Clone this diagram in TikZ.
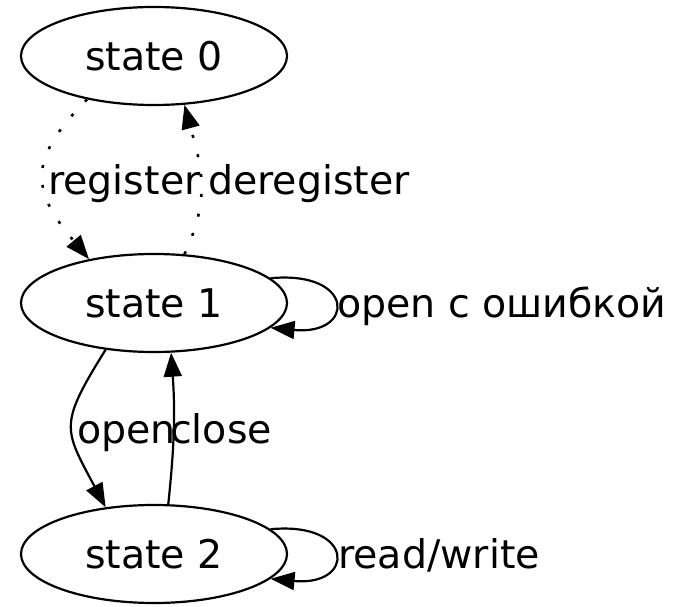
\documentclass[tikz,border=0pt]{standalone}
\usepackage{fontspec}
\setmainfont{DejaVu Sans}
\usetikzlibrary{shapes.geometric}
\usetikzlibrary{arrows.meta}

\begin{document}
\begin{tikzpicture}[x=1pt, y=1pt,
        stateshape/.style={ellipse, draw, line width=2.2pt, minimum width=266pt, minimum height=98pt, inner sep=0pt, font=\fontsize{39.5}{46}\selectfont},
        edgelabel/.style={anchor=base west, inner sep=0pt, font=\fontsize{39.5}{46}\selectfont},
        link/.style={line width=2.2pt, -{Triangle[length=24pt, width=18pt]}},
        dottedlink/.style={link, line width=2.6pt, dash pattern=on 3pt off 17pt}]
    \useasboundingbox (0,0) rectangle (678,606);

    % States
    \node[stateshape] (s0) at (154,550) {state 0};
    \node[stateshape] (s1) at (154,303) {state 1};
    \node[stateshape] (s2) at (154,52) {state 2};

    % Registration
    \draw[dottedlink] (s0.213) to[out=225, in=130, looseness=1.4] (s1.146);
    \draw[dottedlink] (s1.58) to[out=65, in=-75, looseness=1.1] (s0.302);
    \node[edgelabel] (lreg) at (48,411) {register};
    \node[edgelabel] (ldereg) at (208,411) {deregister};

    % Open / close
    \draw[link] (s1.224) to[out=238, in=118, looseness=1.45] (s2.136);
    \draw[link] (s2.74) to[out=84, in=-86] (s1.289);
    \node[edgelabel] (lopen) at (77,163) {open};
    \node[edgelabel] (lclose) at (170,163) {close};

    % Self loops
    \draw[link] (s1.12) .. controls +(85,8) and +(85,-8) .. (s1.-12);
    \node[edgelabel] (lfail) at (337,288) {open с ошибкой};

    \draw[link] (s2.12) .. controls +(85,8) and +(85,-8) .. (s2.-12);
    \node[edgelabel] (lrw) at (338,38) {read/write};
\end{tikzpicture}
\end{document}
